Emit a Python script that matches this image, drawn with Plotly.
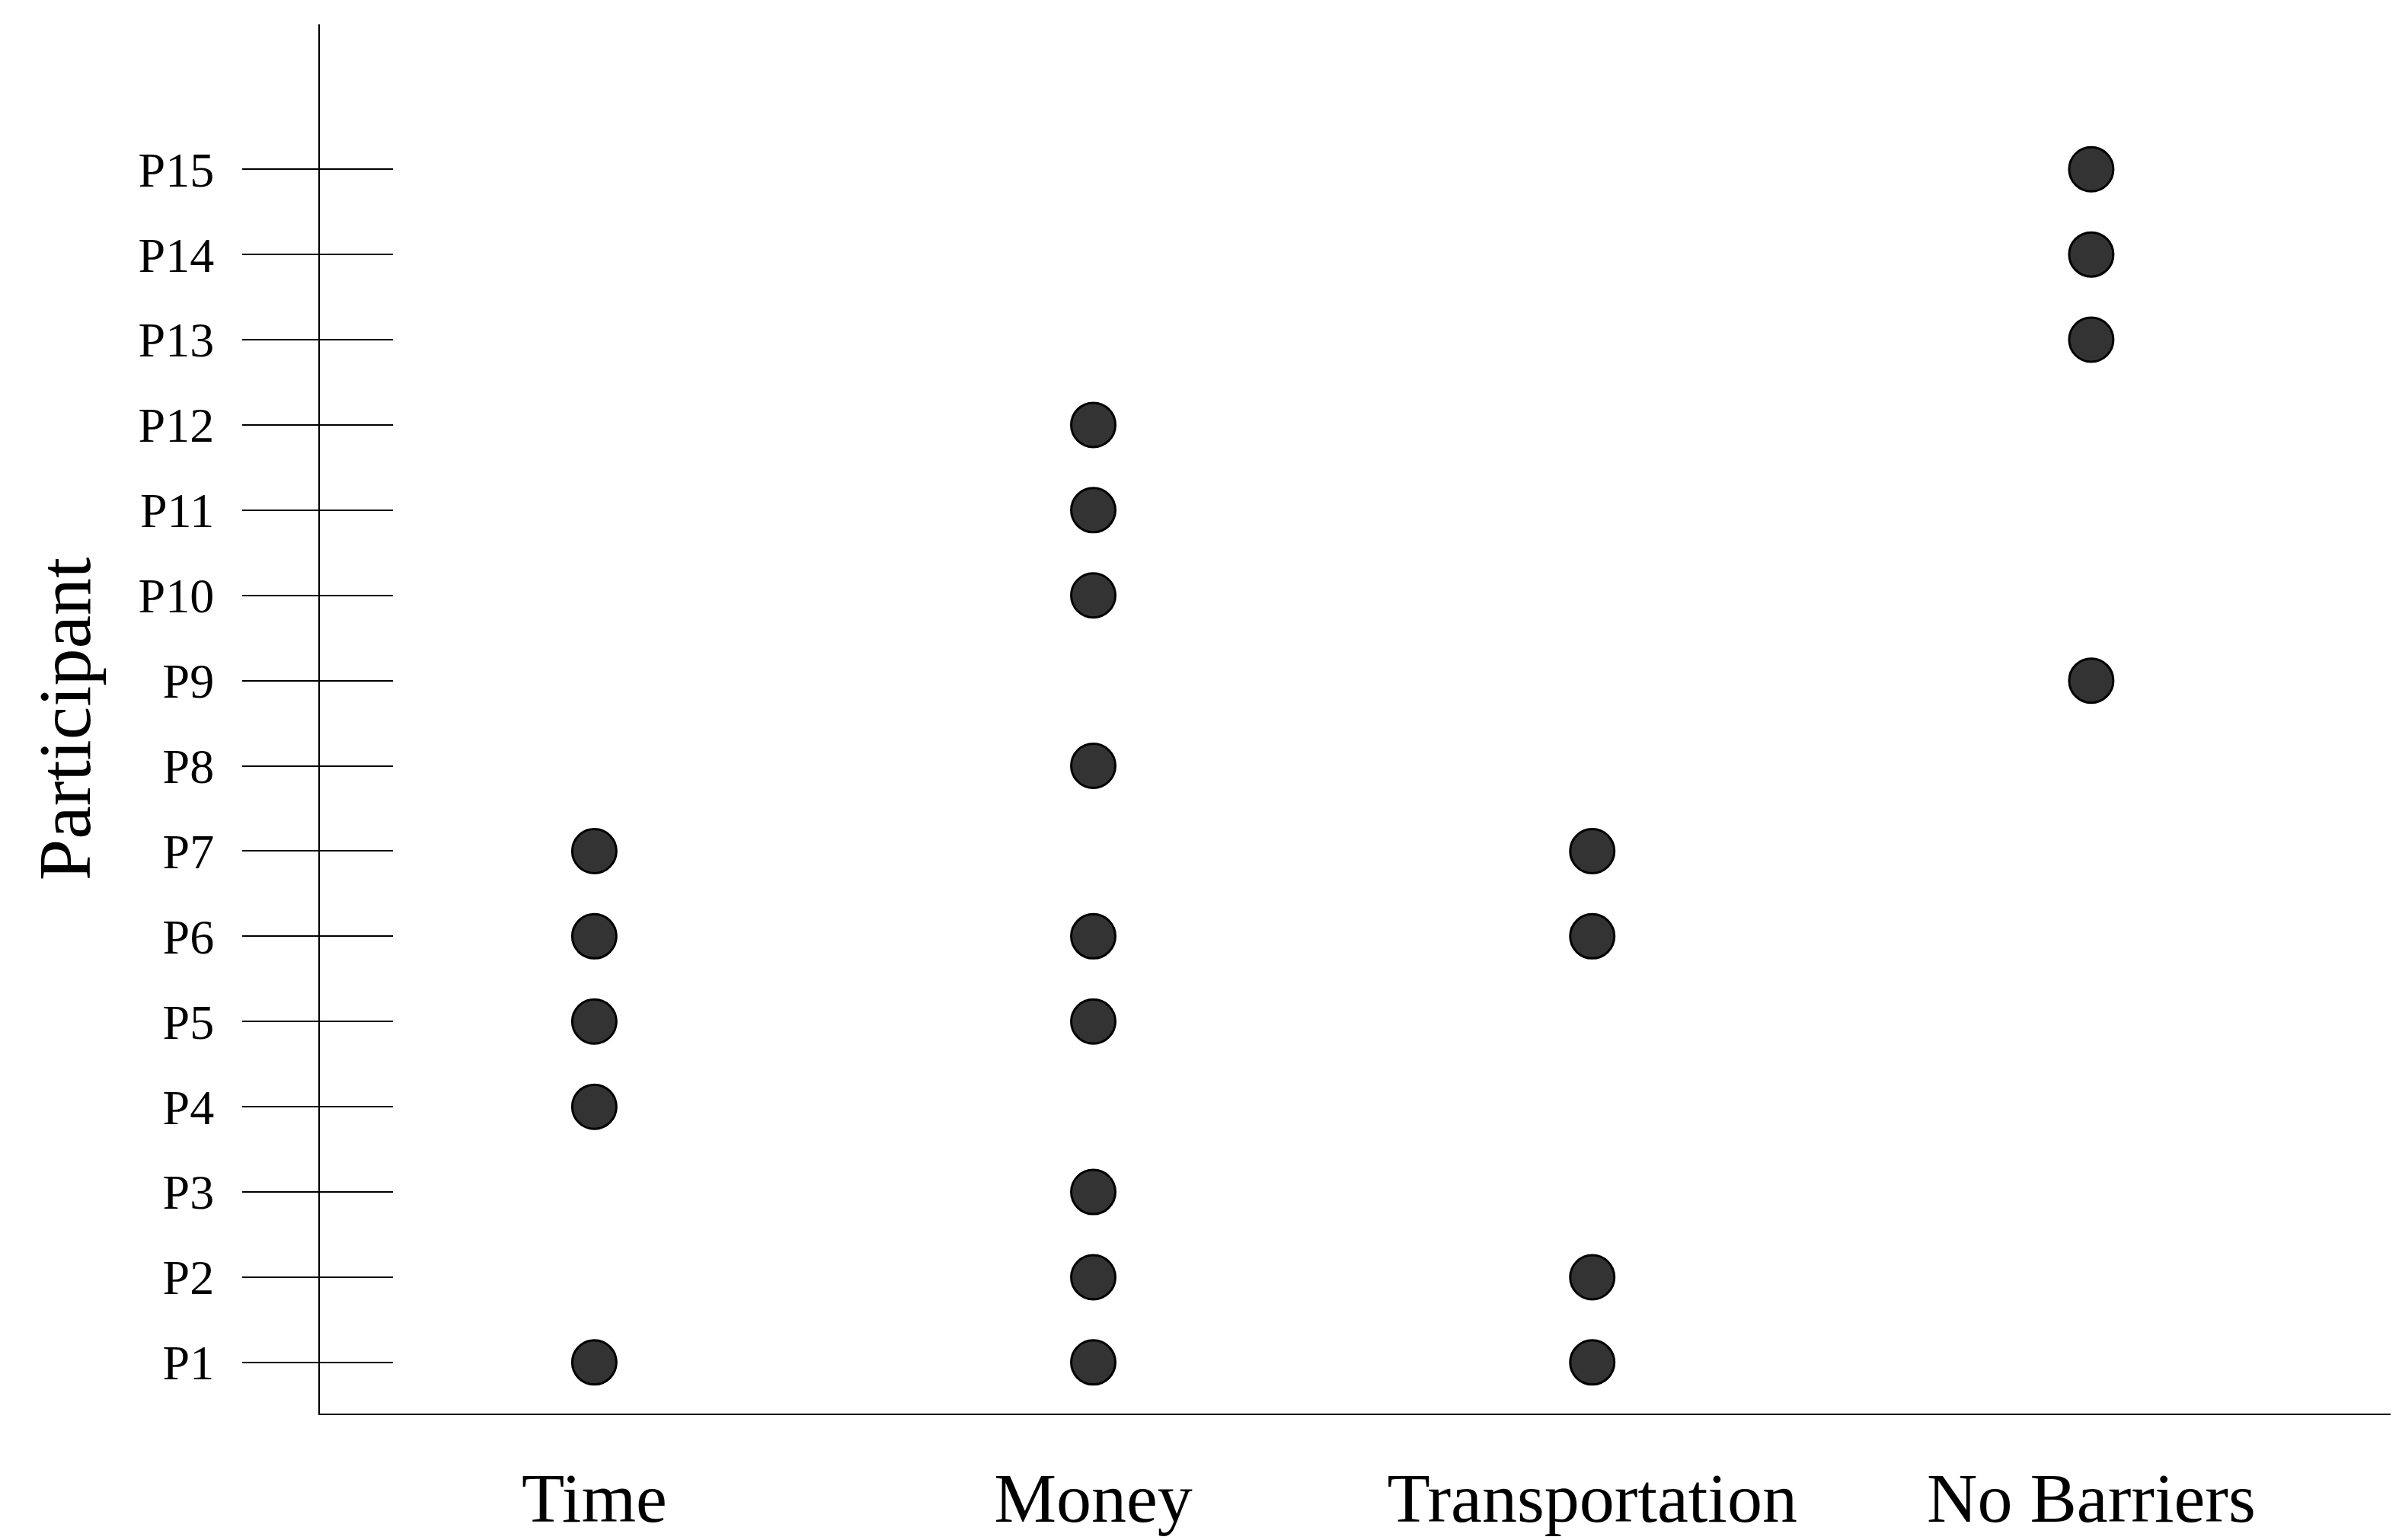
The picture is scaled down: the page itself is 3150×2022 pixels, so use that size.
import plotly.graph_objects as go

categories = ['Time', 'Money', 'Transportation', 'No Barriers']
participants = ['P%d' % i for i in range(1, 16)]

time_p = ['P1', 'P4', 'P5', 'P6', 'P7']
money_p = ['P1', 'P2', 'P3', 'P5', 'P6', 'P8', 'P10', 'P11', 'P12']
transport_p = ['P1', 'P2', 'P6', 'P7']
nobarrier_p = ['P9', 'P13', 'P14', 'P15']

groups = [time_p, money_p, transport_p, nobarrier_p]

xs, ys = [], []
for cat, plist in zip(categories, groups):
    for p in plist:
        xs.append(categories.index(cat))
        ys.append(participants.index(p))

serif = 'Liberation Serif, DejaVu Serif, serif'

fig = go.Figure()
fig.add_trace(go.Scatter(
    x=xs, y=ys, mode='markers',
    marker=dict(size=58, color='#333333', line=dict(color='black', width=3)),
    showlegend=False))
# invisible trace on the overlay axis so it gets drawn
fig.add_trace(go.Scatter(x=[0], y=[0], yaxis='y2', mode='markers',
                         marker=dict(opacity=0), showlegend=False, hoverinfo='skip'))

yrange = [-0.6, 15.7]
fig.update_layout(
    width=3150, height=2022,
    plot_bgcolor='white', paper_bgcolor='white',
    margin=dict(l=412, r=19, t=24, b=174),
    font=dict(family=serif, color='black'),
    xaxis=dict(range=[-0.55, 3.6], tickvals=list(range(4)), ticktext=categories,
               tickfont=dict(size=92), showgrid=False, zeroline=False,
               showline=True, linecolor='black', linewidth=2, ticks='',
               ticklabelstandoff=30),
    yaxis=dict(range=yrange, tickvals=list(range(15)), ticktext=participants,
               tickfont=dict(size=64), showgrid=False, zeroline=False,
               showline=True, linecolor='black', linewidth=2,
               ticks='outside', ticklen=100, tickwidth=2, tickcolor='black',
               ticklabelstandoff=24,
               title=dict(text='Participant', font=dict(size=98), standoff=30)),
    yaxis2=dict(range=yrange, overlaying='y', side='left', tickvals=list(range(15)),
                showticklabels=False, showgrid=False, zeroline=False,
                ticks='inside', ticklen=96, tickwidth=2, tickcolor='black'),
)

fig.write_html('out.html')
